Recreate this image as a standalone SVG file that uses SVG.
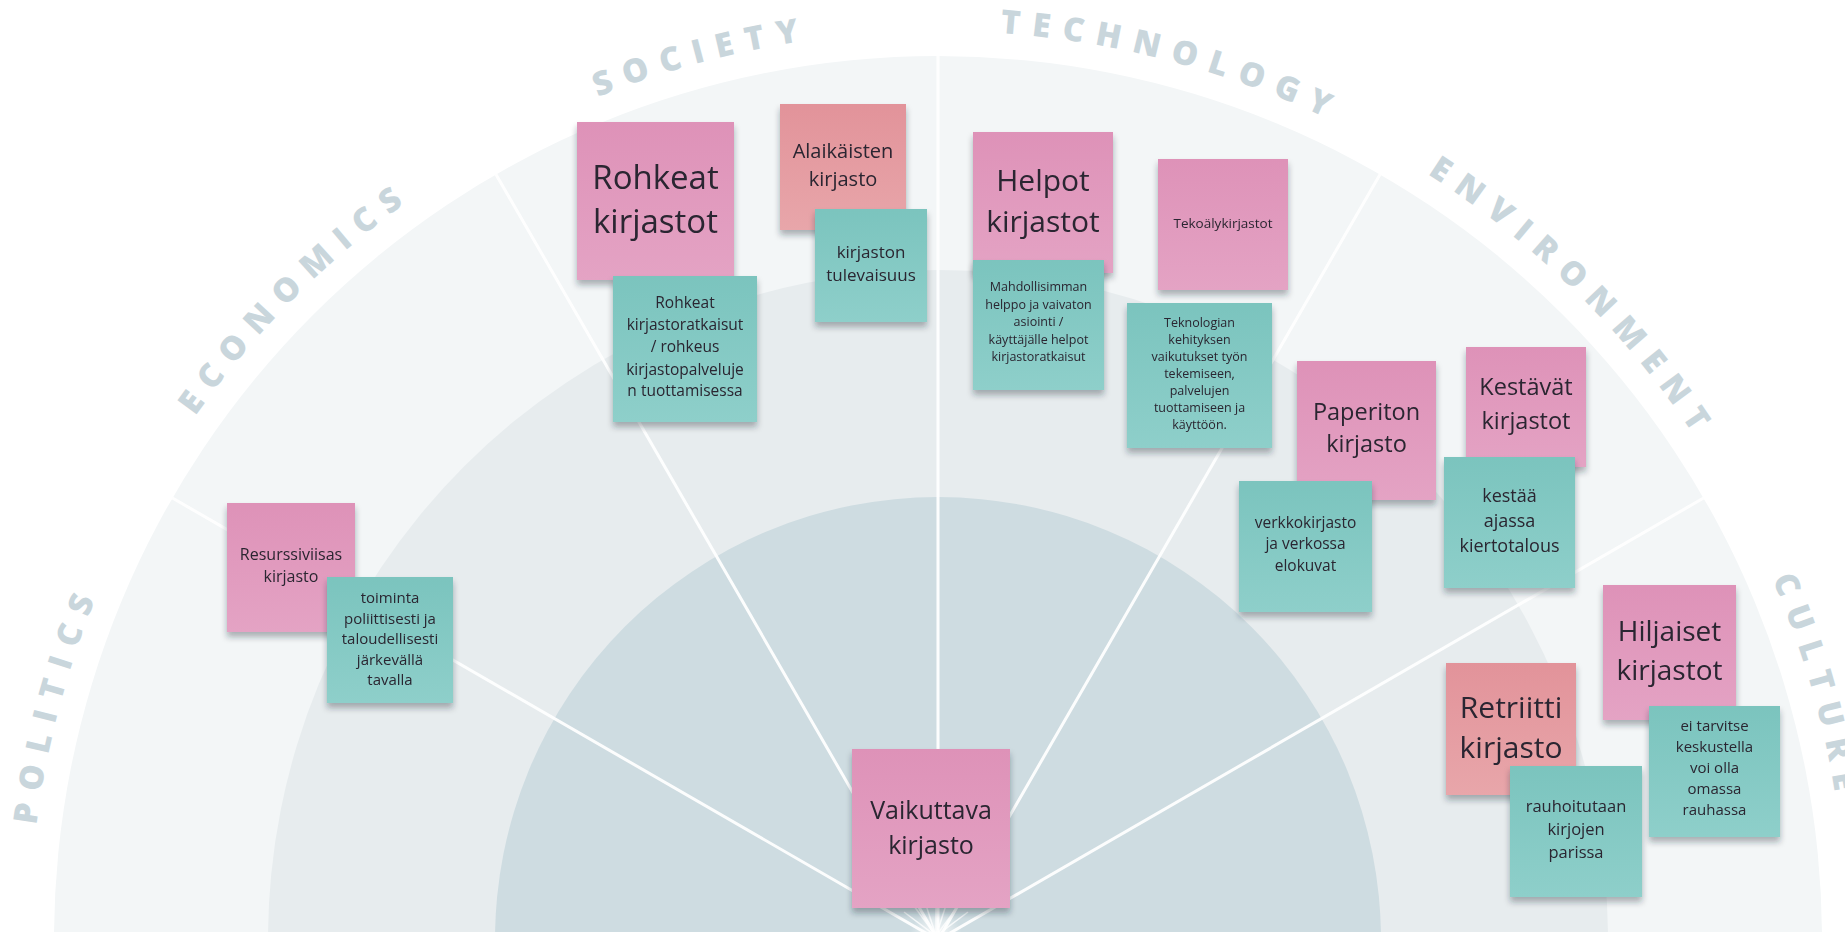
<svg xmlns="http://www.w3.org/2000/svg" xmlns:xlink="http://www.w3.org/1999/xlink" width="1845" height="932" viewBox="0 0 1845 932">
<defs>
<style>
.lbl{font-family:"Open Sans","Liberation Sans",sans-serif;font-weight:800;font-size:33px;letter-spacing:12px;fill:#c9d6dc}
.t{font-family:"Open Sans","Noto Sans","Liberation Sans",sans-serif;text-anchor:middle;fill:#2a2530}
.ray{stroke:#ffffff;stroke-width:3;stroke-linecap:round;opacity:0.95}
.burst{stroke:#ffffff;stroke-width:1.5;opacity:0.8}
.pink{fill:url(#gPink)}
.salmon{fill:url(#gSalmon)}
.teal{fill:url(#gTeal)}
.note{filter:url(#sh)}
</style>
<linearGradient id="gPink" x1="0" y1="0" x2="0" y2="1"><stop offset="0" stop-color="#de92b8"/><stop offset="1" stop-color="#e4a3c4"/></linearGradient>
<linearGradient id="gSalmon" x1="0" y1="0" x2="0" y2="1"><stop offset="0" stop-color="#e2939a"/><stop offset="1" stop-color="#e8a6aa"/></linearGradient>
<linearGradient id="gTeal" x1="0" y1="0" x2="0" y2="1"><stop offset="0" stop-color="#7bc4be"/><stop offset="1" stop-color="#8ecfca"/></linearGradient>
<radialGradient id="glow" cx="0.5" cy="0.5" r="0.5"><stop offset="0" stop-color="#ffffff" stop-opacity="0.9"/><stop offset="1" stop-color="#ffffff" stop-opacity="0"/></radialGradient>
<filter id="sh" x="-10%" y="-10%" width="120%" height="130%"><feDropShadow dx="0" dy="5" stdDeviation="3" flood-color="#1f2d33" flood-opacity="0.35"/></filter>
<path id="arc" d="M 29 940 A 909 909 0 0 1 1847 940"/>
</defs>
<rect x="0" y="0" width="1845" height="932" fill="#ffffff"/>
<g id="background">
<circle cx="938" cy="940" r="884" fill="#f3f6f7"/>
<circle cx="938" cy="940" r="670" fill="#e7ecee"/>
<circle cx="938" cy="940" r="443" fill="#cedce1"/>
</g>
<g id="labels">
<text class="lbl"><textPath xlink:href="#arc" href="#arc" startOffset="8.33%" text-anchor="middle">POLITICS</textPath></text>
<text class="lbl"><textPath xlink:href="#arc" href="#arc" startOffset="25%" text-anchor="middle">ECONOMICS</textPath></text>
<text class="lbl"><textPath xlink:href="#arc" href="#arc" startOffset="41.67%" text-anchor="middle">SOCIETY</textPath></text>
<text class="lbl"><textPath xlink:href="#arc" href="#arc" startOffset="58.3%" text-anchor="middle">TECHNOLOGY</textPath></text>
<text class="lbl"><textPath xlink:href="#arc" href="#arc" startOffset="74.83%" text-anchor="middle">ENVIRONMENT</textPath></text>
<text class="lbl"><textPath xlink:href="#arc" href="#arc" startOffset="91.1%" text-anchor="middle">CULTURE</textPath></text>
</g>
<g id="connectors">
<line class="ray" x1="938" y1="940" x2="172.4" y2="498"/>
<line class="ray" x1="938" y1="940" x2="496" y2="174.4"/>
<line class="ray" x1="938" y1="940" x2="938" y2="56"/>
<line class="ray" x1="938" y1="940" x2="1380" y2="174.4"/>
<line class="ray" x1="938" y1="940" x2="1703.6" y2="498"/>
<circle cx="936" cy="936" r="26" fill="url(#glow)"/>
<line class="burst" x1="936" y1="936" x2="904" y2="912"/>
<line class="burst" x1="936" y1="936" x2="914" y2="906"/>
<line class="burst" x1="936" y1="936" x2="925" y2="902"/>
<line class="burst" x1="936" y1="936" x2="936" y2="900"/>
<line class="burst" x1="936" y1="936" x2="947" y2="902"/>
<line class="burst" x1="936" y1="936" x2="958" y2="906"/>
<line class="burst" x1="936" y1="936" x2="968" y2="912"/>
</g>
<g id="note-resurssiviisas" class="note"><rect class="pink" x="227" y="503" width="128" height="129"/>
<text class="t" font-size="16"><tspan x="291" y="560">Resurssiviisas</tspan><tspan x="291" y="582">kirjasto</tspan></text></g>
<g id="note-toiminta" class="note"><rect class="teal" x="327" y="577" width="126" height="126"/>
<text class="t" font-size="15"><tspan x="390" y="603">toiminta</tspan><tspan x="390" y="623.5">poliittisesti ja</tspan><tspan x="390" y="644">taloudellisesti</tspan><tspan x="390" y="664.5">järkevällä</tspan><tspan x="390" y="685">tavalla</tspan></text></g>
<g id="note-rohkeat" class="note"><rect class="pink" x="577" y="122" width="157" height="158"/>
<text class="t" font-size="33"><tspan x="655.5" y="189">Rohkeat</tspan><tspan x="655.5" y="233">kirjastot</tspan></text></g>
<g id="note-rohkeat-ratkaisut" class="note"><rect class="teal" x="613" y="276" width="144" height="146"/>
<text class="t" font-size="15.5"><tspan x="685" y="308">Rohkeat</tspan><tspan x="685" y="330">kirjastoratkaisut</tspan><tspan x="685" y="352">/ rohkeus</tspan><tspan x="685" y="375">kirjastopalveluje</tspan><tspan x="685" y="396">n tuottamisessa</tspan></text></g>
<g id="note-alaikaisten" class="note"><rect class="salmon" x="780" y="104" width="126" height="126"/>
<text class="t" font-size="20"><tspan x="843" y="158">Alaikäisten</tspan><tspan x="843" y="186">kirjasto</tspan></text></g>
<g id="note-tulevaisuus" class="note"><rect class="teal" x="815" y="209" width="112" height="113"/>
<text class="t" font-size="17"><tspan x="871" y="258">kirjaston</tspan><tspan x="871" y="281">tulevaisuus</tspan></text></g>
<g id="note-helpot" class="note"><rect class="pink" x="973" y="132" width="140" height="141"/>
<text class="t" font-size="30"><tspan x="1043" y="191">Helpot</tspan><tspan x="1043" y="232">kirjastot</tspan></text></g>
<g id="note-mahdollisimman" class="note"><rect class="teal" x="973" y="260" width="131" height="130"/>
<text class="t" font-size="12.5"><tspan x="1038.5" y="291">Mahdollisimman</tspan><tspan x="1038.5" y="308.5">helppo ja vaivaton</tspan><tspan x="1038.5" y="326">asiointi /</tspan><tspan x="1038.5" y="343.5">käyttäjälle helpot</tspan><tspan x="1038.5" y="361">kirjastoratkaisut</tspan></text></g>
<g id="note-tekoaly" class="note"><rect class="pink" x="1158" y="159" width="130" height="131"/>
<text class="t" font-size="13.5"><tspan x="1223" y="228">Tekoälykirjastot</tspan></text></g>
<g id="note-teknologian" class="note"><rect class="teal" x="1127" y="303" width="145" height="145"/>
<text class="t" font-size="12.5"><tspan x="1199.5" y="327">Teknologian</tspan><tspan x="1199.5" y="344">kehityksen</tspan><tspan x="1199.5" y="361">vaikutukset työn</tspan><tspan x="1199.5" y="378">tekemiseen,</tspan><tspan x="1199.5" y="395">palvelujen</tspan><tspan x="1199.5" y="412">tuottamiseen ja</tspan><tspan x="1199.5" y="429">käyttöön.</tspan></text></g>
<g id="note-paperiton" class="note"><rect class="pink" x="1297" y="361" width="139" height="139"/>
<text class="t" font-size="23.5"><tspan x="1366.5" y="420">Paperiton</tspan><tspan x="1366.5" y="452">kirjasto</tspan></text></g>
<g id="note-verkkokirjasto" class="note"><rect class="teal" x="1239" y="481" width="133" height="131"/>
<text class="t" font-size="15.5"><tspan x="1305.5" y="528">verkkokirjasto</tspan><tspan x="1305.5" y="549">ja verkossa</tspan><tspan x="1305.5" y="571">elokuvat</tspan></text></g>
<g id="note-kestavat" class="note"><rect class="pink" x="1466" y="347" width="120" height="120"/>
<text class="t" font-size="23.5"><tspan x="1526" y="395">Kestävät</tspan><tspan x="1526" y="429">kirjastot</tspan></text></g>
<g id="note-kestaa" class="note"><rect class="teal" x="1444" y="457" width="131" height="131"/>
<text class="t" font-size="18"><tspan x="1509.5" y="502">kestää</tspan><tspan x="1509.5" y="527">ajassa</tspan><tspan x="1509.5" y="552">kiertotalous</tspan></text></g>
<g id="note-hiljaiset" class="note"><rect class="pink" x="1603" y="585" width="133" height="135"/>
<text class="t" font-size="28"><tspan x="1669.5" y="641">Hiljaiset</tspan><tspan x="1669.5" y="680">kirjastot</tspan></text></g>
<g id="note-retriitti" class="note"><rect class="salmon" x="1446" y="663" width="130" height="132"/>
<text class="t" font-size="30"><tspan x="1511" y="718">Retriitti</tspan><tspan x="1511" y="758">kirjasto</tspan></text></g>
<g id="note-ei-tarvitse" class="note"><rect class="teal" x="1649" y="706" width="131" height="131"/>
<text class="t" font-size="15"><tspan x="1714.5" y="731">ei tarvitse</tspan><tspan x="1714.5" y="752">keskustella</tspan><tspan x="1714.5" y="773">voi olla</tspan><tspan x="1714.5" y="794">omassa</tspan><tspan x="1714.5" y="815">rauhassa</tspan></text></g>
<g id="note-rauhoitutaan" class="note"><rect class="teal" x="1510" y="766" width="132" height="131"/>
<text class="t" font-size="16.5"><tspan x="1576" y="812">rauhoitutaan</tspan><tspan x="1576" y="835">kirjojen</tspan><tspan x="1576" y="858">parissa</tspan></text></g>
<g id="note-vaikuttava" class="note"><rect class="pink" x="852" y="749" width="158" height="159"/>
<text class="t" font-size="25"><tspan x="931" y="819">Vaikuttava</tspan><tspan x="931" y="854">kirjasto</tspan></text></g>
</svg>
